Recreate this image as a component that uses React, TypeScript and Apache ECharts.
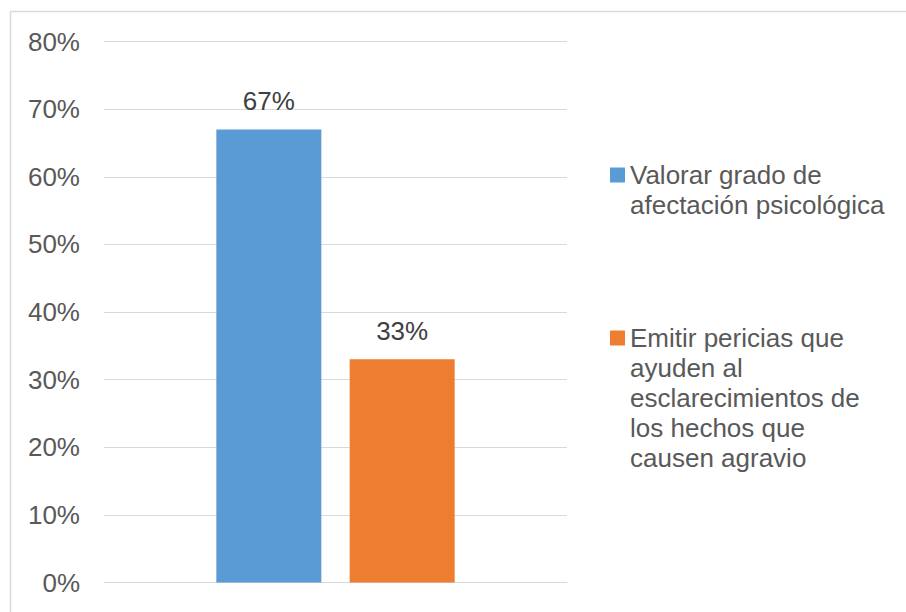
import React, { useEffect, useRef } from "react";
import * as echarts from "echarts";

const categories: string[] = [""];
const seriesNames: string[] = [
  "Valorar grado de\nafectación psicológica",
  "Emitir pericias que\nayuden al\nesclarecimientos de\nlos hechos que\ncausen agravio",
];
const seriesValues: number[] = [67, 33];
const seriesColors: string[] = ["#5B9BD5", "#ED7D31"];
const yTicks: number[] = [0, 10, 20, 30, 40, 50, 60, 70, 80];

export default function App() {
  const ref = useRef<HTMLDivElement>(null);
  useEffect(() => {
    if (!ref.current) return;
    const chart = echarts.init(ref.current, null, { renderer: "svg" });
    const font = "'Liberation Sans', Arial, sans-serif";
    const legendText = {
      fontFamily: font,
      fontSize: 26,
      color: "#595959",
      lineHeight: 30,
    };
    // pad with leading blank lines so the icon sits beside the first line
    const topAligned = (name: string) => {
      const n = name.split("\n").length;
      return "\n".repeat(n - 1) + name;
    };
    chart.setOption({
      animation: false,
      backgroundColor: "#ffffff",
      grid: { left: 104, right: 339, top: 41.5, bottom: 29.5, containLabel: false },
      xAxis: {
        type: "category",
        data: categories,
        axisLine: { show: true, lineStyle: { color: "#d9d9d9", width: 1 } },
        axisTick: { show: false },
        axisLabel: { show: false },
      },
      yAxis: {
        type: "value",
        min: yTicks[0],
        max: yTicks[yTicks.length - 1],
        interval: 10,
        axisLine: { show: false },
        axisTick: { show: false },
        axisLabel: {
          formatter: "{value}%",
          color: "#595959",
          fontFamily: font,
          fontSize: 26,
          margin: 24,
        },
        splitLine: { lineStyle: { color: "#d9d9d9", width: 1 } },
      },
      legend: [
        {
          data: [seriesNames[0]],
          orient: "vertical",
          left: 610,
          top: 130,
          padding: 0,
          itemWidth: 15,
          itemHeight: 15,
          icon: "rect",
          formatter: topAligned,
          textStyle: legendText,
          selectedMode: false,
        },
        {
          data: [seriesNames[1]],
          orient: "vertical",
          left: 610,
          top: 203,
          padding: 0,
          itemWidth: 15,
          itemHeight: 15,
          icon: "rect",
          formatter: topAligned,
          textStyle: legendText,
          selectedMode: false,
        },
      ],
      series: seriesNames.map((name, i) => ({
        name,
        type: "bar",
        data: [seriesValues[i]],
        barWidth: 105,
        barGap: "27%",
        itemStyle: { color: seriesColors[i] },
        label: {
          show: true,
          position: "top",
          distance: 15,
          formatter: "{c}%",
          color: "#404040",
          fontFamily: font,
          fontSize: 26,
        },
      })),
      graphic: [
        {
          type: "rect",
          shape: { x: 10.5, y: 11.5, width: 1000, height: 1000 },
          style: { fill: "none", stroke: "#d9d9d9", lineWidth: 1.5 },
          silent: true,
        },
      ],
    });
    return () => chart.dispose();
  }, []);
  return (
    <div
      ref={ref}
      style={{ position: "absolute", left: 0, top: 0, width: 906, height: 612 }}
    />
  );
}
